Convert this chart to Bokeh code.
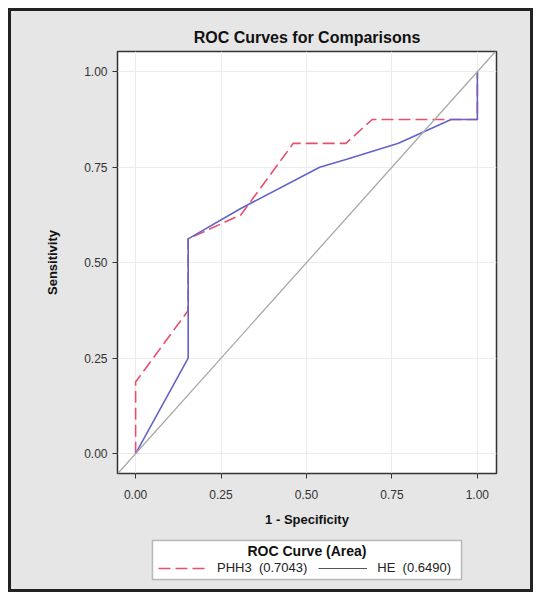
from bokeh.plotting import figure
from bokeh.layouts import column
from bokeh.models import Legend, LegendItem, Slope, FixedTicker, Range1d, BoxAnnotation, Label
from bokeh.embed import file_html
from bokeh.resources import INLINE

# Data (1 - specificity, sensitivity)
phh3_fpr = [0.0, 0.0, 0.1538, 0.1538, 0.3077, 0.4615, 0.6154, 0.6923, 1.0, 1.0]
phh3_tpr = [0.0, 0.1875, 0.375, 0.5625, 0.625, 0.8125, 0.8125, 0.875, 0.875, 1.0]
he_fpr = [0.0, 0.1538, 0.1538, 0.3077, 0.5385, 0.6154, 0.7692, 0.9231, 1.0, 1.0]
he_tpr = [0.0, 0.25, 0.5625, 0.642, 0.75, 0.77, 0.8125, 0.875, 0.875, 1.0]
ticks = [0.0, 0.25, 0.5, 0.75, 1.0]
tick_labels = {0.0: "0.00", 0.25: "0.25", 0.5: "0.50", 0.75: "0.75", 1.0: "1.00"}
legend_title = "ROC Curve (Area)"
phh3_label = "PHH3\u00a0 (0.7043)"
he_label = "HE\u00a0 (0.6490)"

FONT = "Liberation Sans"
BG = "#e6e6e6"
RED = "#e6506e"
BLUE = "#6464c8"

p = figure(width=519, height=521, output_backend="svg", toolbar_location=None,
           x_range=Range1d(-0.053, 1.056), y_range=Range1d(-0.052, 1.053),
           min_border_left=106, min_border_right=34, min_border_top=40, min_border_bottom=59,
           title="ROC Curves for Comparisons")
p.background_fill_color = "white"
p.border_fill_color = BG
p.outline_line_color = "#333333"
p.outline_line_width = 1.5

p.title.align = "center"
p.title.text_font = FONT
p.title.text_font_size = "16px"
p.title.text_font_style = "bold"
p.title.text_color = "#111111"
p.title.standoff = 11

for ax in (p.xaxis[0], p.yaxis[0]):
    ax.ticker = FixedTicker(ticks=ticks)
    ax.major_label_overrides = tick_labels
    ax.minor_tick_line_color = None
    ax.major_tick_out = 5
    ax.major_tick_in = 0
    ax.axis_line_color = None
    ax.major_tick_line_color = "#333333"
    ax.major_label_text_font = FONT
    ax.major_label_text_font_size = "12px"
    ax.major_label_text_color = "#333333"
    ax.axis_label_text_font = FONT
    ax.axis_label_text_font_size = "13px"
    ax.axis_label_text_font_style = "bold"
    ax.axis_label_text_color = "#111111"

p.xaxis.axis_label = "1 - Specificity"
p.yaxis.axis_label = "Sensitivity"
p.yaxis.axis_label_standoff = 21
p.xaxis.axis_label_standoff = 10
p.xaxis.major_label_standoff = 11

p.grid.grid_line_color = "#ececec"
p.grid.grid_line_width = 1
p.xgrid.ticker = FixedTicker(ticks=ticks)
p.ygrid.ticker = FixedTicker(ticks=ticks)

diag = Slope(gradient=1, y_intercept=0, line_color="#a8a8a8", line_width=1.3)
p.add_layout(diag)

p.line(phh3_fpr, phh3_tpr, line_color=RED, line_width=1.6, line_dash="12 5")
p.line(he_fpr, he_tpr, line_color=BLUE, line_width=1.6)

# Legend strip (coordinates in pixels of the strip)
lf = figure(width=519, height=57, output_backend="svg", toolbar_location=None,
            x_range=Range1d(117, 496), y_range=Range1d(589, 532),
            x_axis_type=None, y_axis_type=None,
            min_border_left=0, min_border_right=0, min_border_top=0, min_border_bottom=0)
lf.background_fill_color = BG
lf.border_fill_color = BG
lf.outline_line_color = None
lf.grid.visible = False

box = BoxAnnotation(left=152, right=461, top=540, bottom=579,
                    fill_color="white", fill_alpha=1,
                    line_color="#333333", line_width=1.5)
lf.add_layout(box)

r_phh3 = lf.line(x=[0, 1], y=[0, 1], line_color=RED, line_width=1.6, line_dash="12 5")
r_he = lf.line(x=[0, 1], y=[0, 1], line_color="#555555", line_width=1)

legend = Legend(items=[LegendItem(label=phh3_label, renderers=[r_phh3]),
                       LegendItem(label=he_label, renderers=[r_he])],
                orientation="horizontal", location=(41, 14))
legend.label_text_font = FONT
legend.label_text_font_size = "13px"
legend.label_text_color = "#222222"
legend.glyph_width = 49
legend.glyph_height = 14
legend.label_height = 14
legend.label_standoff = 10
legend.spacing = 11
legend.padding = 0
legend.margin = 0
legend.border_line_color = None
legend.background_fill_alpha = 0
lf.add_layout(legend, "center")

title_lbl = Label(x=306.5, y=550, text=legend_title, text_align="center",
                  text_baseline="middle", text_font=FONT, text_font_size="14px",
                  text_font_style="bold", text_color="#111111")
lf.add_layout(title_lbl)

lay = column(p, lf, spacing=0)
lay.margin = (8, 0, 0, 8)
lay.styles = {"border": "3px solid #222222", "background-color": BG}

open("out.html", "w").write(file_html(lay, INLINE))
